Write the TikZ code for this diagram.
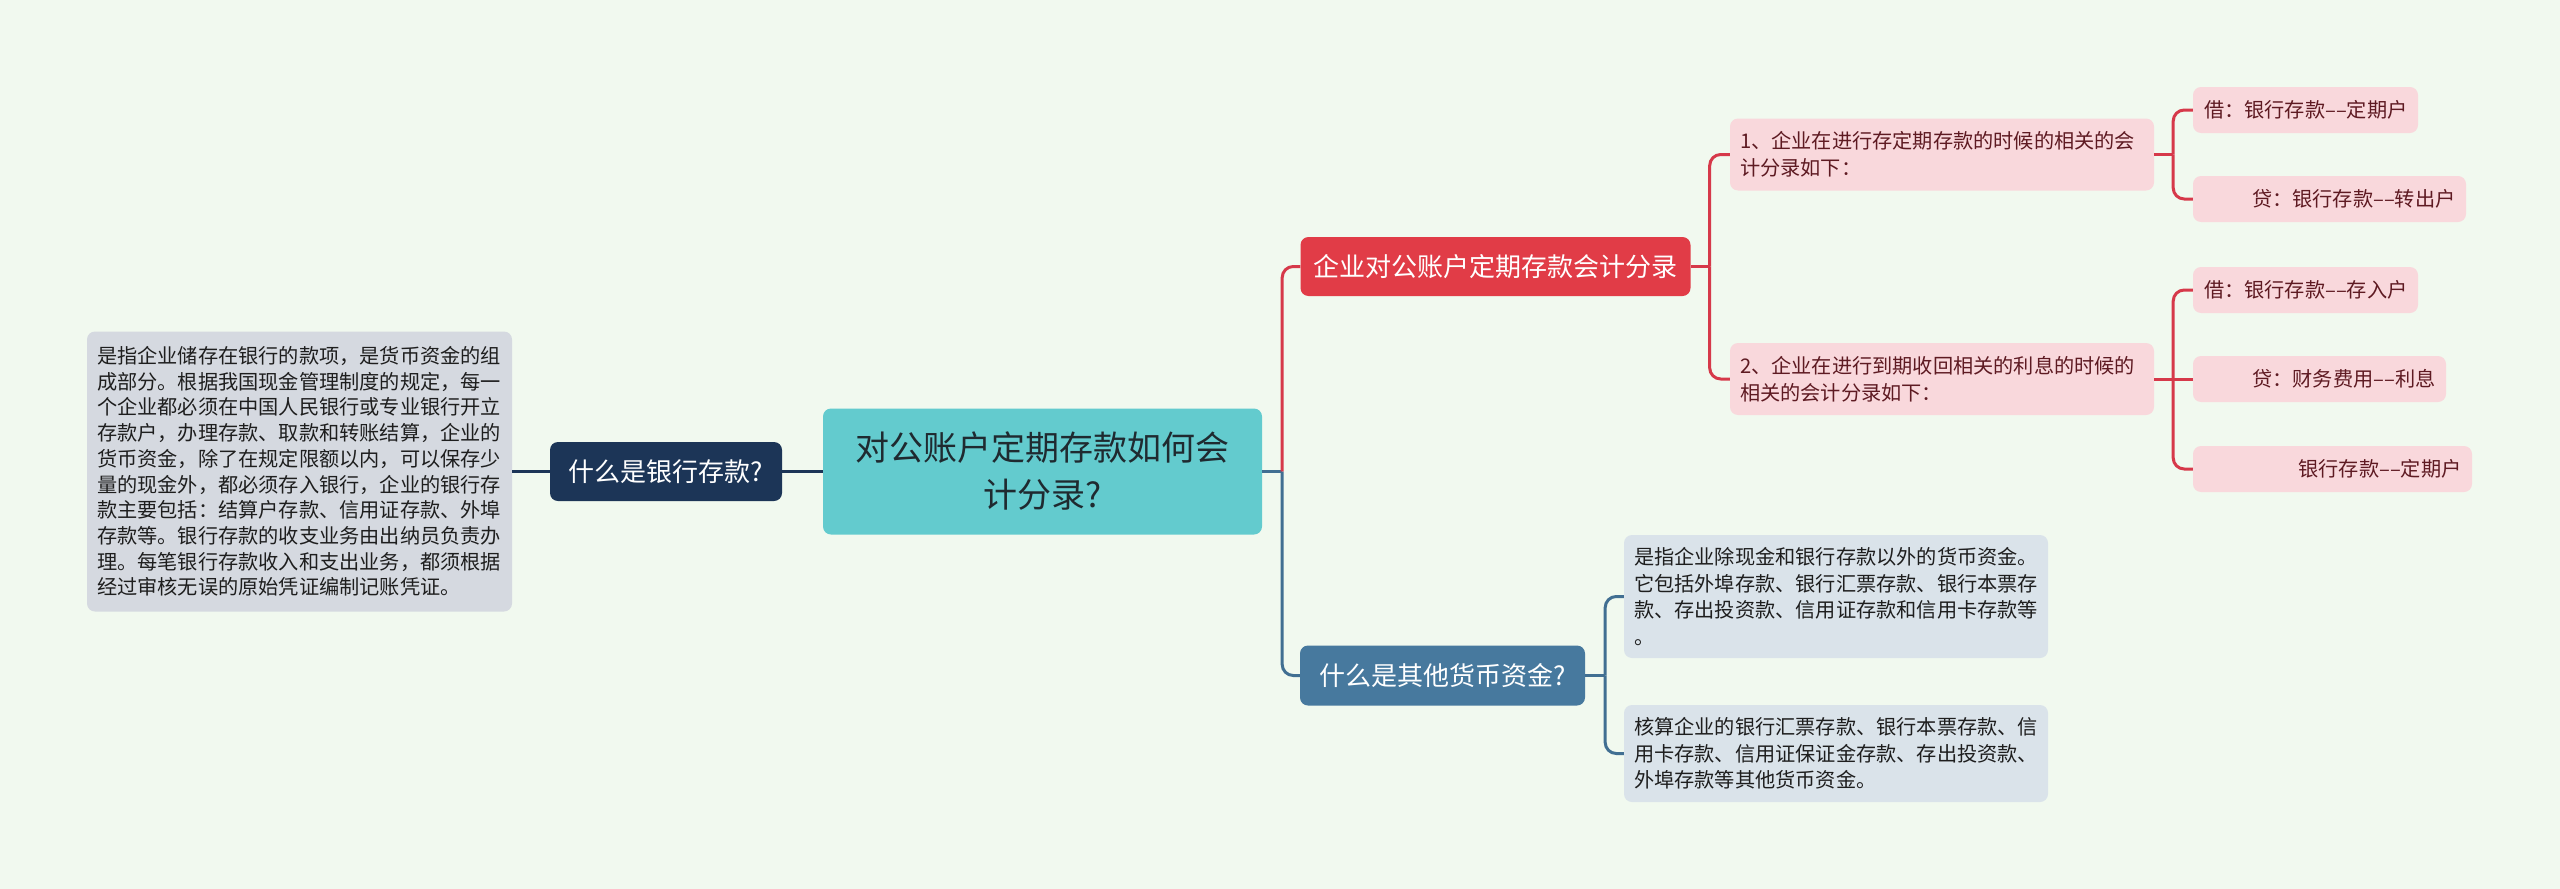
\documentclass[tikz,border=0pt]{standalone}
\usepackage{fontspec}
\setmainfont{Noto Sans CJK SC}
\definecolor{bg}{HTML}{F1F9EF}
\definecolor{rootfill}{HTML}{63CBCE}
\definecolor{roottext}{HTML}{1F2A30}
\definecolor{navy}{HTML}{1C3557}
\definecolor{leftfill}{HTML}{D5D9E0}
\definecolor{redfill}{HTML}{E13C47}
\definecolor{redline}{HTML}{D6394A}
\definecolor{pinkfill}{HTML}{F9D8DC}
\definecolor{pinktext}{HTML}{5E1A22}
\definecolor{bluefill}{HTML}{47799E}
\definecolor{blueline}{HTML}{416F92}
\definecolor{greyfill}{HTML}{DAE3EA}
\definecolor{darktext}{HTML}{1E1E1E}
\begin{document}
\begin{tikzpicture}[x=1pt,y=-1pt,
  box/.style={rounded corners=8pt, inner sep=0pt, anchor=center},
  lvlone/.style={box, text=white, align=center, font=\fontsize{26pt}{32pt}\selectfont},
  para/.style={box, align=left, font=\fontsize{20.2pt}{25.7pt}\selectfont},
  pinkbox/.style={box, fill=pinkfill, text=pinktext, font=\fontsize{20.2pt}{26.5pt}\selectfont},
  conn/.style={line width=3pt, rounded corners=11pt},
]
\fill[bg] (0,0) rectangle (2560,889);
\useasboundingbox (0,0) rectangle (2560,889);

% root
\node[box, fill=rootfill, text=roottext, align=center, minimum width=439pt, minimum height=126pt, text width=420pt,
  font=\fontsize{34pt}{47pt}\selectfont] (root) at (1042.5,471.5) {对公账户定期存款如何会\\计分录?};

% left branch
\node[lvlone, fill=navy, minimum width=232pt, minimum height=59pt, text width=220pt] (bank) at (666,471.5) {什么是银行存款?};
\node[para, fill=leftfill, text=darktext, minimum width=425pt, minimum height=280pt, text width=405pt] (banktxt) at (299.5,471.5) {是指企业储存在银行的款项，是货币资金的组\\
成部分。根据我国现金管理制度的规定，每一\\
个企业都必须在中国人民银行或专业银行开立\\
存款户，办理存款、取款和转账结算，企业的\\
货币资金，除了在规定限额以内，可以保存少\\
量的现金外，都必须存入银行，企业的银行存\\
款主要包括：结算户存款、信用证存款、外埠\\
存款等。银行存款的收支业务由出纳员负责办\\
理。每笔银行存款收入和支出业务，都须根据\\
经过审核无误的原始凭证编制记账凭证。};

% right branches
\node[lvlone, fill=redfill, minimum width=390pt, minimum height=59pt, text width=376pt] (acct) at (1495.5,266.5) {企业对公账户定期存款会计分录};
\node[lvlone, fill=bluefill, minimum width=285pt, minimum height=60pt, text width=270pt] (other) at (1442.5,675.5) {什么是其他货币资金?};

% pink level
\node[pinkbox, align=left, minimum width=424pt, minimum height=72pt, text width=404pt] (p1) at (1942,154.5) {1、企业在进行存定期存款的时候的相关的会\\计分录如下：};
\node[pinkbox, align=left, minimum width=424pt, minimum height=72pt, text width=404pt] (p2) at (1942,379) {2、企业在进行到期收回相关的利息的时候的\\相关的会计分录如下：};

% leaves
\node[pinkbox, align=right, minimum width=225pt, minimum height=46pt, text width=204pt] (l1) at (2305.5,110) {借：银行存款––定期户};
\node[pinkbox, align=right, minimum width=273pt, minimum height=46pt, text width=252pt] (l2) at (2329.5,199) {贷：银行存款––转出户};
\node[pinkbox, align=right, minimum width=225pt, minimum height=46pt, text width=204pt] (l3) at (2305.5,290) {借：银行存款––存入户};
\node[pinkbox, align=right, minimum width=253pt, minimum height=46pt, text width=232pt] (l4) at (2319.5,379) {贷：财务费用––利息};
\node[pinkbox, align=right, minimum width=279pt, minimum height=46pt, text width=258pt] (l5) at (2332.5,469) {银行存款––定期户};

% grey level
\node[para, fill=greyfill, text=darktext, minimum width=424pt, minimum height=123pt, text width=404pt,
  font=\fontsize{20.2pt}{26.5pt}\selectfont] (g1) at (1836,596.5) {是指企业除现金和银行存款以外的货币资金。\\
它包括外埠存款、银行汇票存款、银行本票存\\
款、存出投资款、信用证存款和信用卡存款等\\
。};
\node[para, fill=greyfill, text=darktext, minimum width=424pt, minimum height=97pt, text width=404pt,
  font=\fontsize{20.2pt}{26.5pt}\selectfont] (g2) at (1836,753.5) {核算企业的银行汇票存款、银行本票存款、信\\
用卡存款、信用证保证金存款、存出投资款、\\
外埠存款等其他货币资金。};

% connectors
\draw[conn, navy] (root.west) -- (bank.east);
\draw[conn, navy] (bank.west) -- (banktxt.east);

\draw[conn, blueline] (root.east) -- ++(20,0) coordinate (j1);
\draw[conn, redline] (j1) |- (acct.west);
\draw[conn, blueline] (j1) |- (other.west);

\draw[conn, redline] (acct.east) -- ++(19,0) coordinate (j2);
\draw[conn, redline] (j2) |- (p1.west);
\draw[conn, redline] (j2) |- (p2.west);

\draw[conn, redline] (p1.east) -- ++(19,0) coordinate (j3);
\draw[conn, redline] (j3) |- (l1.west);
\draw[conn, redline] (j3) |- (l2.west);

\draw[conn, redline] (p2.east) -- ++(19,0) coordinate (j4);
\draw[conn, redline] (j4) |- (l3.west);
\draw[conn, redline] (j4) -- (l4.west);
\draw[conn, redline] (j4) |- (l5.west);

\draw[conn, blueline] (other.east) -- ++(20,0) coordinate (j5);
\draw[conn, blueline] (j5) |- (g1.west);
\draw[conn, blueline] (j5) |- (g2.west);
\end{tikzpicture}
\end{document}
